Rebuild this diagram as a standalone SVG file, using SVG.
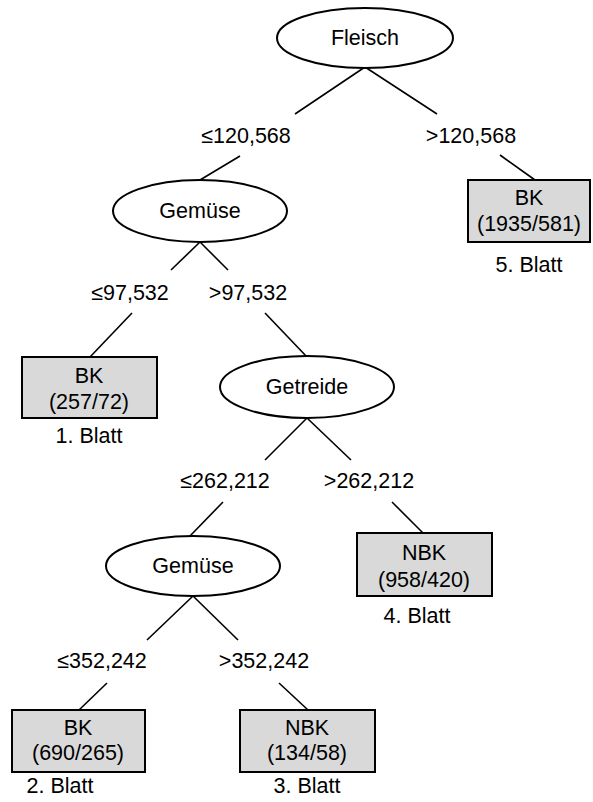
<svg xmlns="http://www.w3.org/2000/svg" width="593" height="802" viewBox="0 0 593 802">
<style>
.n{fill:#fff;stroke:#000;stroke-width:2}
.l{fill:#d9d9d9;stroke:#000;stroke-width:2}
.e{stroke:#000;stroke-width:1.6;fill:none}
text{font-family:"Liberation Sans",Arial,sans-serif;font-size:21.5px;fill:#000;text-anchor:middle}
</style>
<rect width="593" height="802" fill="#fff"/>
<g id="connectors">
<line class="e" x1="365" y1="67" x2="295" y2="114"/>
<line class="e" x1="365" y1="67" x2="437" y2="114"/>
<line class="e" x1="240" y1="156" x2="200" y2="180"/>
<line class="e" x1="500" y1="155" x2="535" y2="180"/>
<line class="e" x1="200" y1="242" x2="171" y2="270"/>
<line class="e" x1="200" y1="242" x2="228" y2="270"/>
<line class="e" x1="132" y1="313" x2="90" y2="357"/>
<line class="e" x1="265" y1="313" x2="307" y2="357"/>
<line class="e" x1="307" y1="418" x2="265" y2="460"/>
<line class="e" x1="307" y1="418" x2="351" y2="460"/>
<line class="e" x1="223" y1="502" x2="190" y2="536"/>
<line class="e" x1="392" y1="502" x2="423" y2="533"/>
<line class="e" x1="193" y1="596" x2="147" y2="640"/>
<line class="e" x1="193" y1="596" x2="238" y2="640"/>
<line class="e" x1="107" y1="683" x2="79" y2="710"/>
<line class="e" x1="279" y1="683" x2="308" y2="710"/>
</g>
<g id="labels">
<text x="246" y="143">≤120,568</text>
<text x="471" y="143">&gt;120,568</text>
<text x="130" y="300">≤97,532</text>
<text x="248" y="300">&gt;97,532</text>
<text x="225" y="488">≤262,212</text>
<text x="369" y="488">&gt;262,212</text>
<text x="102" y="668">≤352,242</text>
<text x="264" y="668">&gt;352,242</text>
</g>
<g id="fleisch"><ellipse class="n" cx="365" cy="38" rx="88" ry="30"/><text x="365" y="45">Fleisch</text></g>
<g id="gemuese1"><ellipse class="n" cx="200" cy="211" rx="87" ry="31"/><text x="200" y="218">Gemüse</text></g>
<g id="getreide"><ellipse class="n" cx="307" cy="387" rx="87" ry="31"/><text x="307" y="394">Getreide</text></g>
<g id="gemuese2"><ellipse class="n" cx="193" cy="566" rx="87" ry="30"/><text x="193" y="573">Gemüse</text></g>
<g id="blatt5"><rect class="l" x="468" y="180" width="122" height="62"/><text x="529" y="205">BK</text><text x="529" y="231">(1935/581)</text><text x="529" y="272">5. Blatt</text></g>
<g id="blatt1"><rect class="l" x="22" y="357" width="135" height="61"/><text x="89" y="383">BK</text><text x="89" y="409">(257/72)</text><text x="89" y="443">1. Blatt</text></g>
<g id="blatt4"><rect class="l" x="357" y="533" width="135" height="63"/><text x="424" y="560">NBK</text><text x="424" y="587">(958/420)</text><text x="417" y="623">4. Blatt</text></g>
<g id="blatt2"><rect class="l" x="12" y="710" width="133" height="62"/><text x="78" y="735">BK</text><text x="78" y="760">(690/265)</text><text x="60" y="793">2. Blatt</text></g>
<g id="blatt3"><rect class="l" x="240" y="710" width="135" height="62"/><text x="307" y="735">NBK</text><text x="307" y="760">(134/58)</text><text x="307" y="793">3. Blatt</text></g>
</svg>
